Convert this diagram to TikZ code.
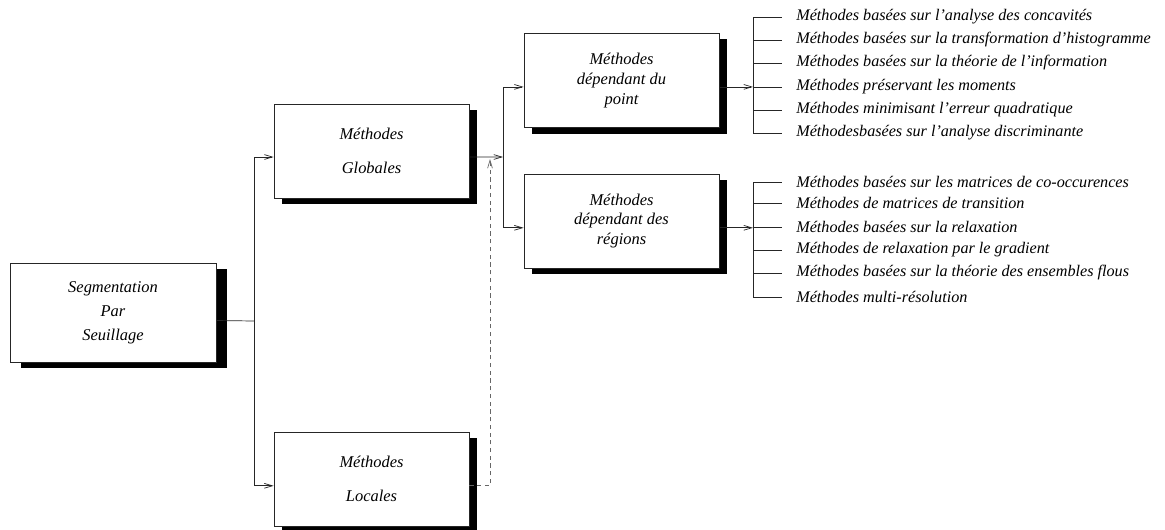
\documentclass[tikz,border=0pt]{standalone}
\usepackage{fontspec}
\setmainfont{Liberation Serif}
\usetikzlibrary{arrows.meta, shadows}

\begin{document}
\begin{tikzpicture}[
    x=0.025cm, y=-0.025cm,
    basebox/.style={draw=black!85, line width=0.6pt, fill=white, align=center, inner sep=0pt, font=\fontsize{11.7}{14}\selectfont\itshape},
    methodbox/.style={basebox, minimum width=4.875cm, minimum height=2.35cm, drop shadow={shadow xshift=0.2cm, shadow yshift=-0.15cm, fill=black, opacity=1}},
    rootbox/.style={basebox, minimum width=5.15cm, minimum height=2.475cm, drop shadow={shadow xshift=0.27cm, shadow yshift=-0.15cm, fill=black, opacity=1}},
    item/.style={anchor=west, inner xsep=0.35cm, inner ysep=0pt, font=\fontsize{11.5}{13}\selectfont\itshape},
    link/.style={black!85, line width=0.5pt},
    arrow/.style={link, -{Straight Barb[length=0.2cm, width=0.12cm]}},
    dasharrow/.style={arrow, black!60, dash pattern=on 3pt off 2.5pt}
]
    \useasboundingbox (0,0) rectangle (1165,529);

    % Main boxes.
    \node[rootbox] (seg) at (113, 312.5) {Segmentation\\[3pt]Par\\[3pt]Seuillage};
    \node[methodbox] (glob) at (371.5, 151) {M\'ethodes\\[10pt]Globales};
    \node[methodbox] (loc) at (371.5, 479) {M\'ethodes\\[10pt]Locales};
    \node[methodbox] (point) at (621.5, 80.5) {M\'ethodes\\d\'ependant du\\point};
    \node[methodbox] (reg) at (621.5, 221) {M\'ethodes\\d\'ependant des\\r\'egions};

    % Ports sit a little below the box centres.
    \coordinate (segout) at ([yshift=-0.2cm]seg.east);
    \coordinate (globin) at ([yshift=-0.15cm]glob.west);
    \coordinate (globout) at ([yshift=-0.15cm]glob.east);
    \coordinate (locin) at ([yshift=-0.17cm]loc.west);
    \coordinate (locout) at ([yshift=-0.17cm]loc.east);
    \coordinate (pointin) at ([yshift=-0.16cm]point.west);
    \coordinate (pointout) at ([yshift=-0.16cm]point.east);
    \coordinate (regin) at ([yshift=-0.17cm]reg.west);
    \coordinate (regout) at ([yshift=-0.17cm]reg.east);

    % Segmentation splits into global and local.
    \coordinate (segsplit) at (254, 321);
    \draw[link] (segout) -- (segsplit);
    \draw[arrow] (segsplit) |- (globin);
    \draw[arrow] (segsplit) |- (locin);

    % Global splits into point and region methods.
    \coordinate (globsplit) at (503, 157);
    \draw[arrow] (globout) -- (globsplit);
    \draw[arrow] (globsplit) |- (pointin);
    \draw[arrow] (globsplit) |- (regin);
    \coordinate (dashtop) at (490, 159);
    \draw[dasharrow] (locout) -| (dashtop);

    % Point methods list.
    \node[item] (p1) at (782, 17) {Méthodes basées sur l'analyse des concavités};
    \node[item] (p2) at (782, 40) {Méthodes basées sur la transformation d'histogramme};
    \node[item] (p3) at (782, 63) {Méthodes basées sur la théorie de l'information};
    \node[item] (p4) at (782, 87) {Méthodes préservant les moments};
    \node[item] (p5) at (782, 110) {Méthodes minimisant l'erreur quadratique};
    \node[item] (p6) at (782, 133) {Méthodesbasées sur l'analyse discriminante};
    \coordinate (pointbar) at (753, 87);
    \draw[arrow] (pointout) -- (pointout -| pointbar);
    \draw[link] (p1.west -| pointbar) -- (p6.west -| pointbar);
    \draw[link] (p1.west -| pointbar) -- (p1.west);
    \draw[link] (p2.west -| pointbar) -- (p2.west);
    \draw[link] (p3.west -| pointbar) -- (p3.west);
    \draw[link] (p4.west -| pointbar) -- (p4.west);
    \draw[link] (p5.west -| pointbar) -- (p5.west);
    \draw[link] (p6.west -| pointbar) -- (p6.west);

    % Region methods list.
    \node[item] (r1) at (782, 182) {Méthodes basées sur les matrices de co-occurences};
    \node[item] (r2) at (782, 203) {Méthodes de matrices de transition};
    \node[item] (r3) at (782, 227) {Méthodes basées sur la relaxation};
    \node[item] (r4) at (782, 250) {Méthodes de relaxation par le gradient};
    \node[item] (r5) at (782, 273) {Méthodes basées sur la théorie des ensembles flous};
    \node[item] (r6) at (782, 297) {Méthodes multi-résolution};
    \coordinate (regbar) at (753, 227);
    \draw[arrow] (regout) -- (regout -| regbar);
    \draw[link] (r1.west -| regbar) -- (r6.west -| regbar);
    \draw[link] (r1.west -| regbar) -- (r1.west);
    \draw[link] (r2.west -| regbar) -- (r2.west);
    \draw[link] (r3.west -| regbar) -- (r3.west);
    \draw[link] (r4.west -| regbar) -- (r4.west);
    \draw[link] (r5.west -| regbar) -- (r5.west);
    \draw[link] (r6.west -| regbar) -- (r6.west);

\end{tikzpicture}
\end{document}
